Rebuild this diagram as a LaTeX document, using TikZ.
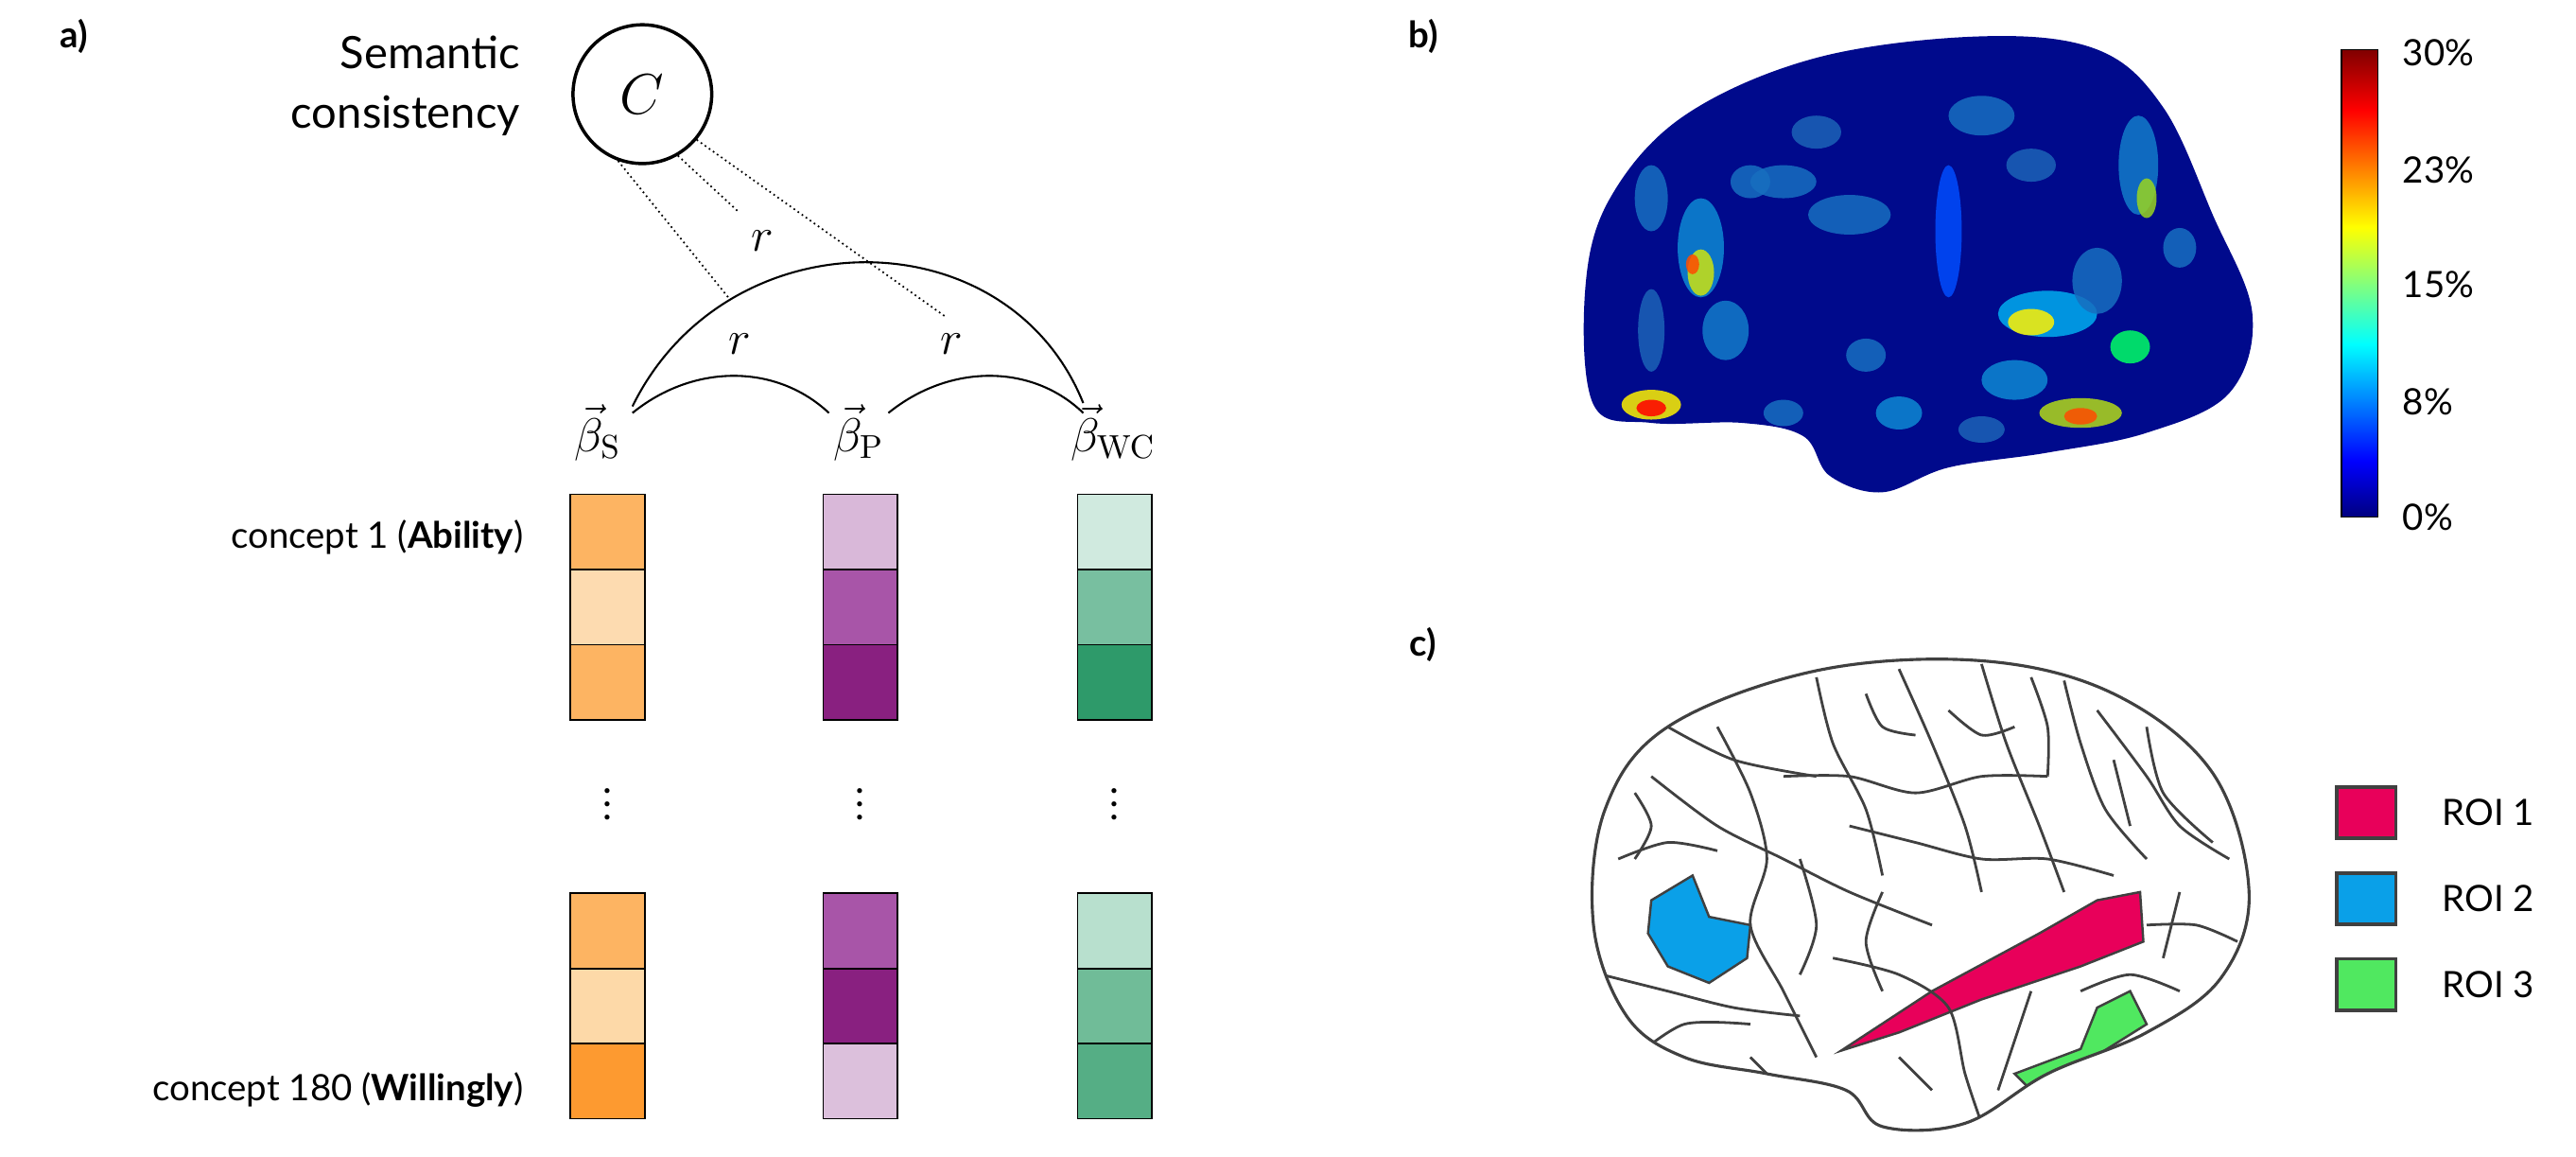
\documentclass[tikz,border=0pt]{standalone}
\usepackage[no-math]{fontspec}
\setmainfont{Lato}
\begin{document}
\definecolor{jdb}{rgb}{0,0,0.5}\definecolor{jdr}{rgb}{0.5,0,0}
\definecolor{roia}{RGB}{232,0,90}\definecolor{roib}{RGB}{10,160,232}\definecolor{roic}{RGB}{80,232,96}
\definecolor{navy}{RGB}{0,10,140}
\pgfdeclareverticalshading{jet}{100bp}{color(0bp)=(jdb); color(25bp)=(jdb); color(31bp)=(blue); color(43.5bp)=(cyan); color(56bp)=(yellow); color(68.5bp)=(red); color(75bp)=(jdr); color(100bp)=(jdr)}
\begin{tikzpicture}[x=0.5pt,y=-0.5pt,
  lab/.style={font=\fontsize{11}{13}\selectfont\bfseries},
  big/.style={font=\fontsize{13.5}{18}\selectfont},
  txt/.style={font=\fontsize{11}{13}\selectfont},
  bx/.style={draw=black,line width=0.5pt,minimum width=22.5pt,minimum height=22.75pt,inner sep=0,outer sep=0},
  dl/.style={densely dotted,line width=0.5pt},
  arc/.style={line width=0.6pt},
  rl/.style={font=\fontsize{14}{16}\selectfont},
  brn/.style={draw=black!75,line width=0.9pt}]
\useasboundingbox (0,0) rectangle (1560,700);
% panel a
\node[lab] (la) at (45,22) {a)};
\node[big,align=right,anchor=east] (sc) at (322,52) {Semantic\\consistency};
\node[circle,draw,line width=1pt,minimum size=42pt,inner sep=0] (C) at (389,57) {\fontsize{16}{18}\selectfont$C$};
\node[rl,inner sep=1pt] (bs) at (362,262) {$\vec\beta_{\mathrm{S}}$};
\node[rl,inner sep=1pt] (bp) at (520,262) {$\vec\beta_{\mathrm{P}}$};
\node[rl,inner sep=1pt] (bw) at (674,262) {$\vec\beta_{\mathrm{WC}}$};
\draw[arc] (383,250) .. controls (420,220) and (470,220) .. (502,250);
\draw[arc] (538,250) .. controls (575,220) and (625,220) .. (656,250);
\draw[arc] (383,246) .. controls (440,130) and (610,130) .. (656,244);
\coordinate (e1) at (441,180); \coordinate (e2) at (447,128); \coordinate (e3) at (573,192);
\draw[dl] (C.-110) -- (e1);
\draw[dl] (C.-60) -- (e2);
\draw[dl] (C.-40) -- (e3);
\node[rl] (r1) at (462,146) {$r$};
\node[rl] (r2) at (448,208) {$r$};
\node[rl] (r3) at (576,208) {$r$};
% boxes
\foreach \x/\n/\ca/\cb/\cc/\cd/\ce/\cf in {368/s/FDB462/FDDBB0/FDB462/FDB462/FDD9A8/FD9A30, 521/p/D9B8D9/A855A8/892080/A855A8/892080/DCC0DC, 675/w/D0EADF/78BFA0/2E9A6A/B8E0CE/70BC98/55AE85}{
  \definecolor{ka}{HTML}{\ca}\definecolor{kb}{HTML}{\cb}\definecolor{kc}{HTML}{\cc}
  \definecolor{kd}{HTML}{\cd}\definecolor{ke}{HTML}{\ce}\definecolor{kf}{HTML}{\cf}
  \node[bx,fill=ka] (\n1) at (\x,322) {};
  \node[bx,fill=kb] (\n2) at (\x,367.5) {};
  \node[bx,fill=kc] (\n3) at (\x,413) {};
  \node[bx,fill=kd] (\n4) at (\x,563.5) {};
  \node[bx,fill=ke] (\n5) at (\x,609) {};
  \node[bx,fill=kf] (\n6) at (\x,654.5) {};
  \node[font=\fontsize{12}{6}\selectfont,align=center,inner sep=0] (\n d) at (\x,487) {.\\[-2pt].\\[-2pt].};
}
\node[txt,anchor=east] (c1) at (324,325) {concept 1 (\textbf{Ability})};
\node[txt,anchor=east] (c2) at (324,660) {concept 180 (\textbf{Willingly})};
% panel b
\node[lab] (lb) at (862,22) {b)};
\def\brainb{plot[smooth cycle,tension=0.6] coordinates{(965,245)(960,175)(975,120)(1020,70)(1100,35)(1200,22)(1270,30)(1310,65)(1340,130)(1364,190)(1350,238)(1300,262)(1240,274)(1180,283)(1140,298)(1108,288)(1092,264)(1055,256)(1000,256)}}
\fill[navy] \brainb;
\begin{scope}
\clip \brainb;
\foreach \x/\y/\a/\b/\c in {1030/150/14/30/cyan!70!blue,1000/120/10/20/cyan!50!blue,1060/110/12/10/cyan!50!blue,1030/165/8/14/yellow!80!green,1025/160/4/6/red!70!yellow,1045/200/14/18/cyan!60!blue,1000/200/8/25/cyan!40!blue,1000/245/18/9/yellow,1000/247/9/5/red,1240/190/30/14/cyan,1230/195/14/8/yellow,1220/230/20/12/cyan!70!blue,1260/250/25/9/yellow!70!green,1260/252/10/5/red!70!yellow,1150/250/14/10/cyan!70!blue,1130/215/12/10/cyan!50!blue,1120/130/25/12/cyan!50!blue,1200/70/20/12/cyan!50!blue,1230/100/15/10/cyan!40!blue,1295/100/12/30/cyan!60!blue,1300/120/6/12/yellow!60!green,1080/110/20/10/cyan!50!blue,1180/140/8/40/blue!70!cyan,1320/150/10/12/cyan!50!blue,1270/170/15/20/cyan!50!blue,1290/210/12/10/green!60!cyan,1100/80/15/10/cyan!40!blue,1080/250/12/8/cyan!50!blue,1200/260/14/8/cyan!40!blue}
  \fill[\c,opacity=0.85] (\x,\y) ellipse [x radius=\a*0.5pt, y radius=\b*0.5pt];
\end{scope}
\shade[shading=jet,draw=black,line width=0.5pt] (1418,30) rectangle (1440,313);
\foreach \y/\t in {32/30\%,103/23\%,172/15\%,243/8\%,313/0\%}
  \node[txt,anchor=west] at (1448,\y) {\t};
% panel c
\node[lab] (lc) at (862,390) {c)};
\def\brainc{plot[smooth cycle,tension=0.6] coordinates{(965,560)(972,490)(1010,440)(1100,406)(1200,400)(1280,420)(1340,468)(1362,540)(1345,592)(1300,625)(1240,650)(1190,680)(1140,682)(1118,660)(1070,650)(1020,640)(985,615)}}
\fill[white] \brainc;
\begin{scope}
\clip \brainc;
\fill[roia,draw=black!75,line width=0.7pt] (1115,636) -- (1170,600) -- (1235,565) -- (1270,545) -- (1296,540) -- (1298,570) -- (1260,585) -- (1200,605) -- (1150,625) -- cycle;
\fill[roib,draw=black!75,line width=0.7pt] (1000,545) -- (1025,530) -- (1035,555) -- (1060,560) -- (1058,580) -- (1035,595) -- (1010,585) -- (998,565) -- cycle;
\fill[roic,draw=black!75,line width=0.7pt] (1220,650) -- (1260,635) -- (1270,610) -- (1290,600) -- (1300,620) -- (1260,645) -- (1230,660) -- cycle;
\foreach \p in {
 {(1000,470)(1040,500)(1080,520)(1120,540)(1170,560)},
 {(1040,440)(1060,480)(1070,520)(1060,560)(1080,600)(1100,640)},
 {(1100,410)(1110,450)(1130,490)(1140,530)},
 {(1150,405)(1170,450)(1190,500)(1200,540)},
 {(1200,402)(1215,450)(1235,500)(1250,540)},
 {(1250,412)(1260,450)(1275,490)(1300,520)},
 {(1300,440)(1310,480)(1340,510)},
 {(980,520)(1010,510)(1040,515)},
 {(970,590)(1010,600)(1050,610)(1090,615)},
 {(1110,580)(1150,590)(1180,610)(1190,650)(1200,680)},
 {(1080,470)(1120,470)(1160,480)(1200,470)(1240,470)},
 {(1010,440)(1050,460)(1100,470)},
 {(1300,560)(1330,560)(1355,570)},
 {(1230,600)(1220,630)(1210,660)},
 {(1150,640)(1170,660)},
 {(1270,430)(1300,470)(1320,500)(1350,520)},
 {(990,640)(1020,620)(1060,620)},
 {(1120,500)(1160,510)(1200,520)(1240,520)(1280,530)},
 {(1130,420)(1140,440)(1160,445)},
 {(1180,430)(1200,445)(1220,440)},
 {(1230,410)(1240,440)(1240,470)},
 {(1090,520)(1100,560)(1090,590)},
 {(1140,540)(1130,570)(1140,600)},
 {(1260,600)(1290,590)(1320,600)},
 {(1320,540)(1310,580)},
 {(1060,640)(1080,660)},
 {(990,480)(1000,500)(990,520)},
 {(1280,460)(1290,500)}}
 \draw[black!75,line width=0.8pt] plot[smooth] coordinates \p;
\end{scope}
\draw[brn] \brainc;
\foreach \y/\c/\t/\n in {492/roia/ROI 1/r1b,544/roib/ROI 2/r2b,596/roic/ROI 3/r3b}{
  \node[draw=black!75,line width=1pt,fill=\c,minimum width=18pt,minimum height=15.5pt,inner sep=0] (\n) at (1433,\y) {};
  \node[txt,anchor=west] at (1472,\y) {\t};
}
\end{tikzpicture}
\end{document}
